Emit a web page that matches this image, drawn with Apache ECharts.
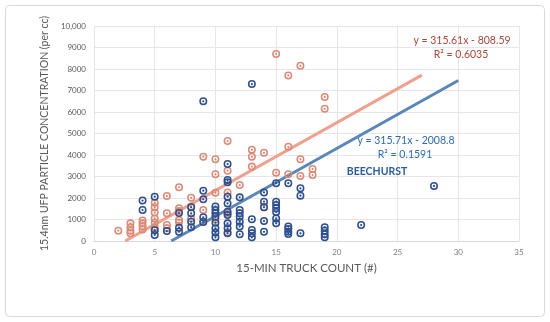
<!DOCTYPE html>
<html>
<head>
<meta charset="utf-8">
<script src="https://cdn.jsdelivr.net/npm/echarts@6/dist/echarts.min.js"></script>
<style>html,body{margin:0;padding:0;background:#fff}#c{width:550px;height:322px}</style>
</head>
<body>
<div id="c"></div>
<script>
// ---- data ----
const xTicks = [0, 5, 10, 15, 20, 25, 30, 35];
const yTicks = [0, 1000, 2000, 3000, 4000, 5000, 6000, 7000, 8000, 9000, 10000];

// all-sites series (salmon)
const allX = [2,3,3,3,3,4,4,4,4,5,5,5,5,5,5,5,6,6,6,6,7,7,7,7,7,8,8,8,9,9,9,10,10,10,10,11,11,11,11,11,12,13,13,13,14,14,15,15,16,16,16,17,17,17,18,18,19,19];
const allY = [480,820,640,480,360,950,820,690,540,1780,1570,1320,1050,850,640,510,2090,1290,740,590,2500,1520,1390,980,860,2010,1600,1050,3920,1440,900,3800,3100,2250,1000,4650,3270,2260,1290,400,2600,4250,3920,3460,4100,1570,8700,3180,7700,4380,3100,8150,3800,3020,3350,3070,6700,6150];

// BEECHURST series (dark blue)
const beeX = [4,4,5,5,5,6,7,7,7,8,8,8,8,9,9,9,9,9,10,10,10,10,10,10,10,10,11,11,11,11,11,11,11,11,11,11,12,12,12,12,12,12,12,13,13,13,13,13,14,14,14,14,14,15,15,15,15,15,15,15,16,16,16,16,16,17,17,17,19,19,19,19,22,28];
const beeY = [1880,1440,2060,500,280,460,1300,620,430,1570,1290,900,640,6500,2340,1940,1100,880,1600,1440,1290,1130,850,590,390,170,3580,2840,2730,2060,1750,1360,1210,820,590,360,2030,1440,1290,1130,900,670,310,7300,1010,510,360,170,2260,1830,1570,930,430,2690,1830,1680,1520,1350,1050,820,2690,670,560,430,330,2450,2110,360,640,480,310,170,740,2560];

// trend lines (from the equations shown)
const allSlope = 315.61, allIntercept = -808.59, allR2 = '0.6035';
const beeSlope = 315.71, beeIntercept = -2008.8, beeR2 = '0.1591';
const allTrendX = [2.56, 27];
const beeTrendX = [6.36, 30];

const yTitle = '15.4nm UFP PARTICLE CONCENTRATION (per cc)';
const xTitle = '15-MIN TRUCK COUNT (#)';
const siteLabel = 'BEECHURST';

// ---- chart ----
const pts = (xs, ys) => xs.map((x, i) => [x, ys[i]]);
const trend = (xs, m, b) => xs.map(x => [x, m * x + b]);
const ringDot = 'path://M0,-10A10,10,0,1,1,0,10A10,10,0,1,1,0,-10ZM0,-6.2A6.2,6.2,0,1,0,0,6.2A6.2,6.2,0,1,0,0,-6.2ZM0,-2.8A2.8,2.8,0,1,1,0,2.8A2.8,2.8,0,1,1,0,-2.8Z';
const font = 'Lato, "Liberation Sans", sans-serif';

const chart = echarts.init(document.getElementById('c'), null, {renderer: 'canvas'});
chart.setOption({
  animation: false,
  backgroundColor: '#fff',
  grid: {left: 94, right: 31, top: 26, bottom: 81},
  xAxis: {
    type: 'value', min: 0, max: 35, interval: 5,
    name: xTitle, nameLocation: 'middle', nameGap: 21,
    nameTextStyle: {fontFamily: font, fontSize: 11.5, color: '#595959'},
    axisLine: {show: true, lineStyle: {color: '#D9D9D9'}},
    axisTick: {show: false},
    axisLabel: {fontFamily: font, fontSize: 8, color: '#7f7f7f', margin: 7},
    splitLine: {show: true, lineStyle: {color: '#E6E6E6'}}
  },
  yAxis: {
    type: 'value', min: 0, max: 10000, interval: 1000,
    name: yTitle, nameLocation: 'middle', nameGap: 35,
    nameTextStyle: {fontFamily: font, fontSize: 10.5, color: '#595959'},
    axisLine: {show: false}, axisTick: {show: false},
    axisLabel: {fontFamily: font, fontSize: 8, color: '#595959', margin: 8,
      formatter: v => (v >= 10000 ? v.toLocaleString('en-US') : String(v))},
    splitLine: {show: true, lineStyle: {color: '#E6E6E6'}}
  },
  graphic: [
    {type: 'rect', shape: {x: 5.5, y: 5.5, width: 539, height: 311, r: 4}, style: {fill: 'none', stroke: '#D9D9D9', lineWidth: 1}, z: -1},
    {type: 'text', x: 462, y: 41, style: {text: 'y = ' + allSlope + 'x - ' + Math.abs(allIntercept), fill: '#A5483A', font: '10.5px ' + font, align: 'center', verticalAlign: 'middle'}, z: 10},
    {type: 'text', x: 461, y: 55, style: {text: 'R² = ' + allR2, fill: '#A5483A', font: '10.5px ' + font, align: 'center', verticalAlign: 'middle'}, z: 10},
    {type: 'text', x: 406, y: 141, style: {text: 'y = ' + beeSlope + 'x - ' + Math.abs(beeIntercept), fill: '#2F6CA8', font: '10.5px ' + font, align: 'center', verticalAlign: 'middle'}, z: 10},
    {type: 'text', x: 405, y: 155, style: {text: 'R² = ' + beeR2, fill: '#2F6CA8', font: '10.5px ' + font, align: 'center', verticalAlign: 'middle'}, z: 10},
    {type: 'text', x: 377, y: 172, style: {text: siteLabel, fill: '#2B5C9B', font: 'bold 10.5px ' + font, align: 'center', verticalAlign: 'middle'}, z: 10}
  ],
  series: [
    {type: 'line', data: trend(beeTrendX, beeSlope, beeIntercept), symbol: 'none',
     lineStyle: {color: '#5B86B8', width: 3}, z: 1, silent: true},
    {type: 'line', data: trend(allTrendX, allSlope, allIntercept), symbol: 'none',
     lineStyle: {color: '#EFA08E', width: 3}, z: 1, silent: true},
    {type: 'scatter', data: pts(allX, allY), symbol: ringDot, symbolSize: 8,
     itemStyle: {color: '#D98B77', opacity: 1}, z: 3},
    {type: 'scatter', data: pts(beeX, beeY), symbol: ringDot, symbolSize: 8,
     itemStyle: {color: '#2E4F8C', opacity: 1}, z: 4}
  ]
});
</script>
</body>
</html>
